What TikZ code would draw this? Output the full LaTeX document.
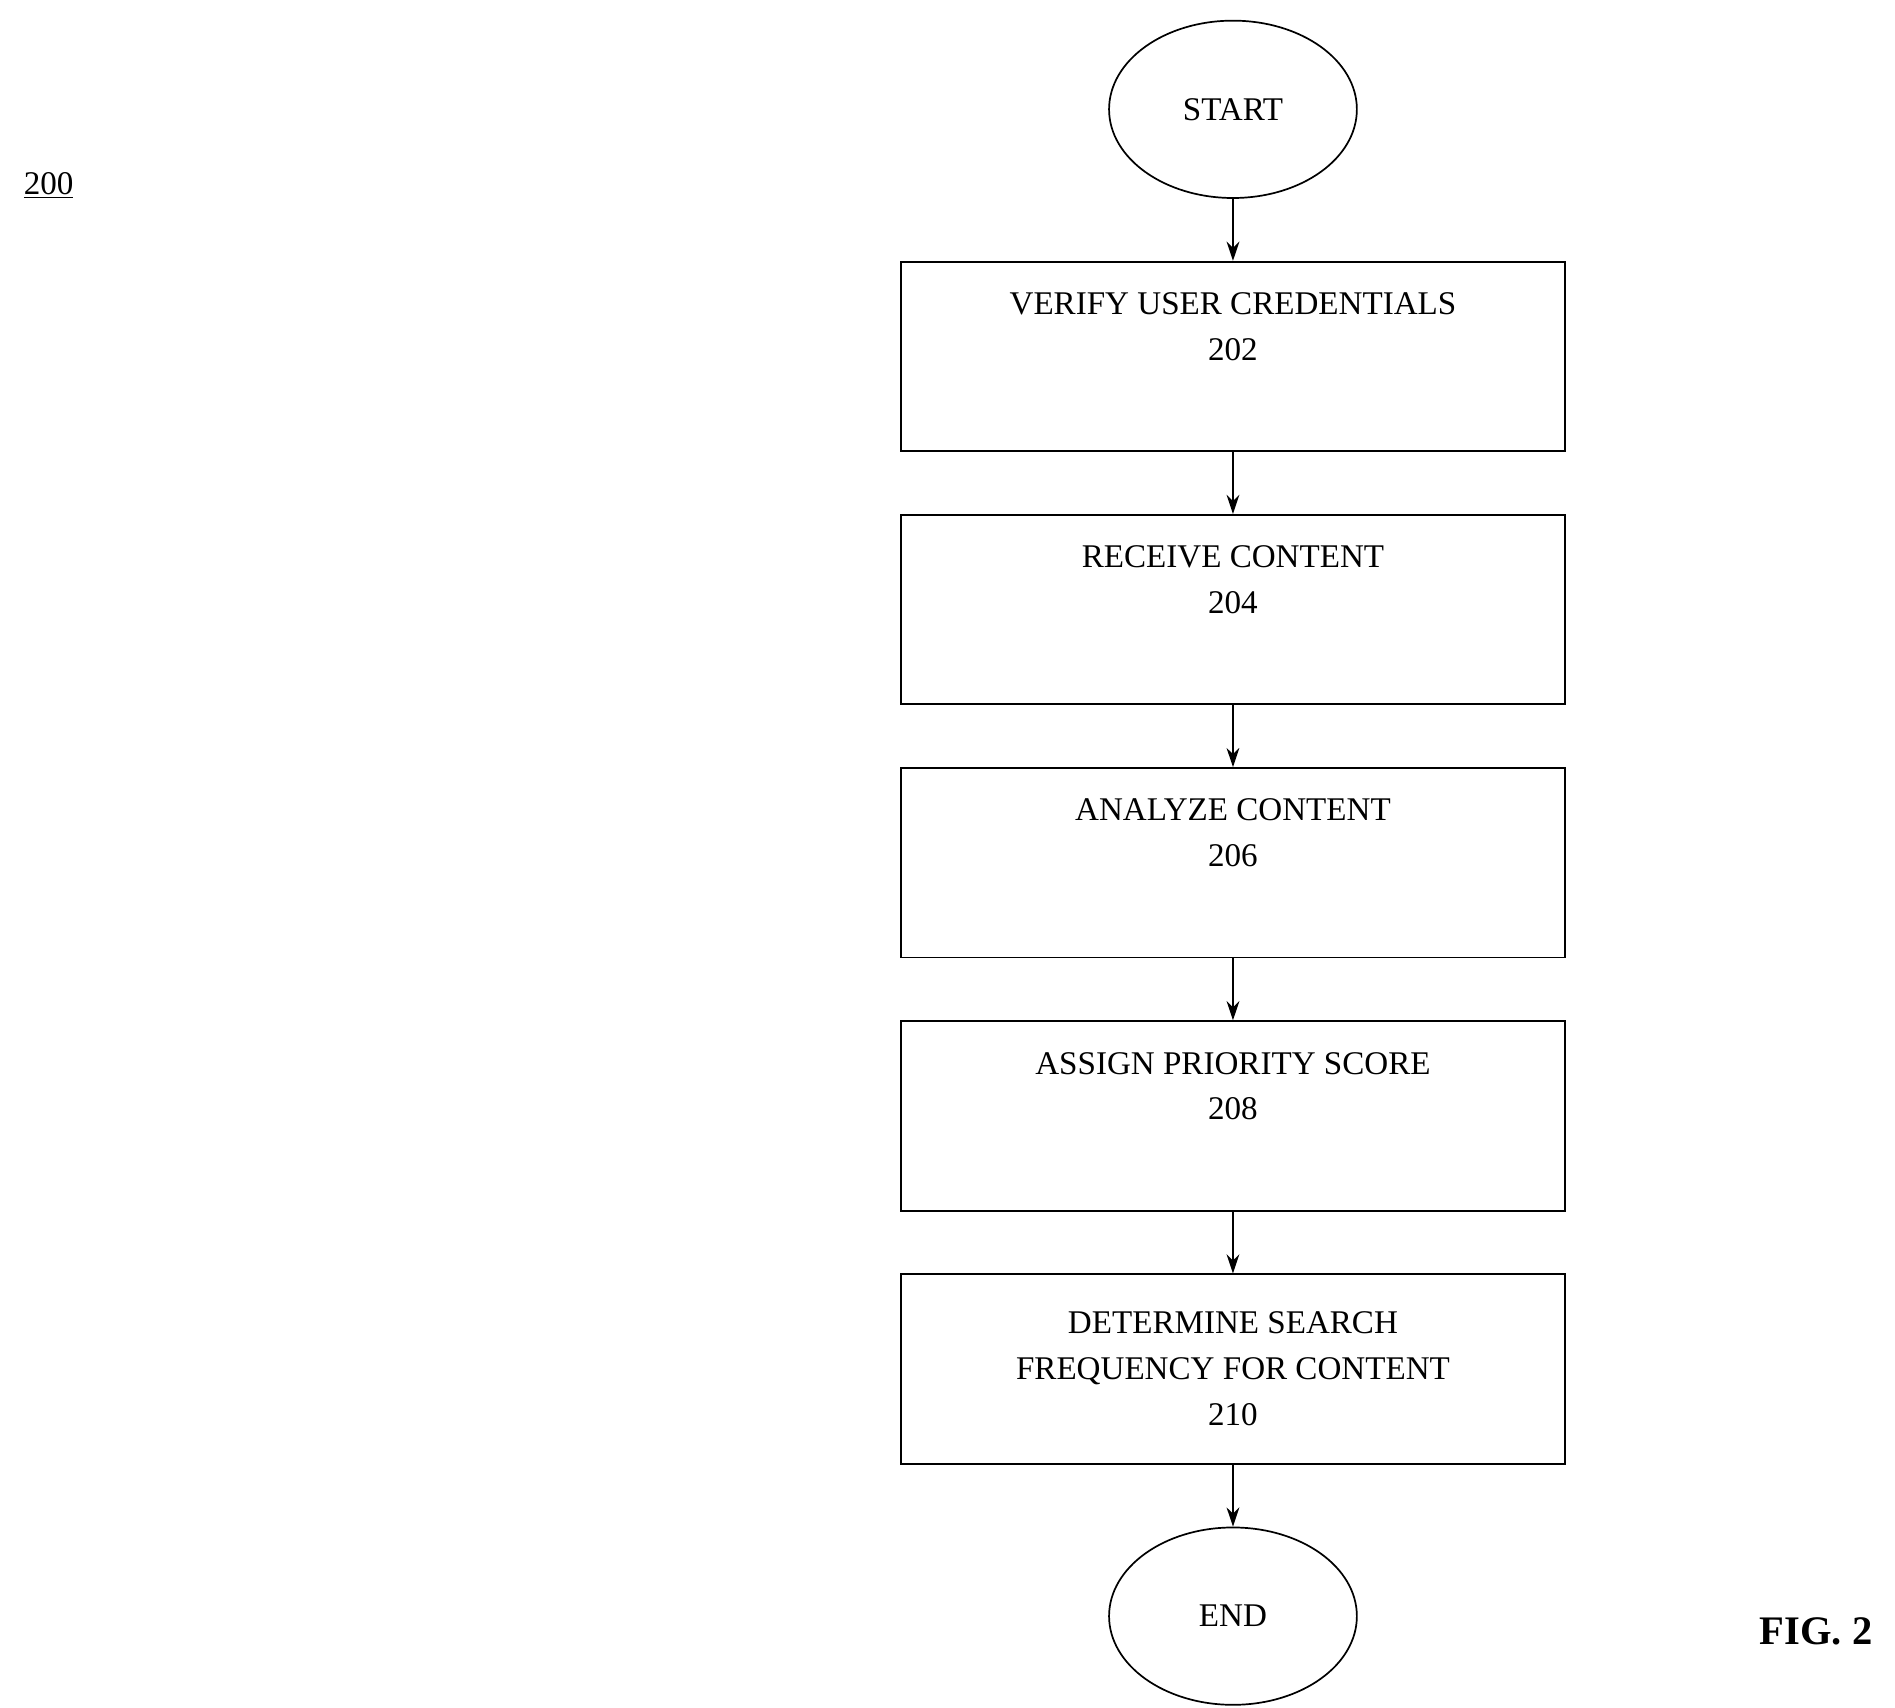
\documentclass[tikz,border=0pt]{standalone}
\usepackage{fontspec}
\setmainfont{Liberation Serif}
\usetikzlibrary{arrows.meta,positioning,shapes.geometric}
\tikzset{
  stepbox/.style={draw, thick, minimum width=10.94cm, minimum height=3.12cm, align=center, inner sep=0pt},
  term/.style={draw, thick, ellipse, minimum width=4.08cm, minimum height=2.92cm, inner sep=0pt},
  flow/.style={-{Stealth[length=9pt,width=6pt]}, thick}
}
\begin{document}
\begin{tikzpicture}[node distance=1.02cm, font=\fontsize{15.5}{21.5}\selectfont]
\useasboundingbox (0,0) rectangle (31.2,-28.12);
\node (start) [term] at (20.3,-1.8) {START};
\node (verify) [stepbox, below=of start] {VERIFY USER CREDENTIALS\\202\\ \strut};
\node (receive) [stepbox, below=of verify] {RECEIVE CONTENT\\204\\ \strut};
\node (analyze) [stepbox, below=of receive] {ANALYZE CONTENT\\206\\ \strut};
\node (assign) [stepbox, below=of analyze] {ASSIGN PRIORITY SCORE\\208\\ \strut};
\node (freq) [stepbox, below=of assign] {DETERMINE SEARCH\\FREQUENCY FOR CONTENT\\210};
\node (end) [term, below=of freq] {END};
\node (num) at (0.8,-3.06) {\underline{200}};
\node (fig) at (29.9,-26.86) {\fontsize{19}{23}\selectfont\bfseries FIG. 2};
\draw[flow] (start) -- (verify);
\draw[flow] (verify) -- (receive);
\draw[flow] (receive) -- (analyze);
\draw[flow] (analyze) -- (assign);
\draw[flow] (assign) -- (freq);
\draw[flow] (freq) -- (end);
\end{tikzpicture}
\end{document}
